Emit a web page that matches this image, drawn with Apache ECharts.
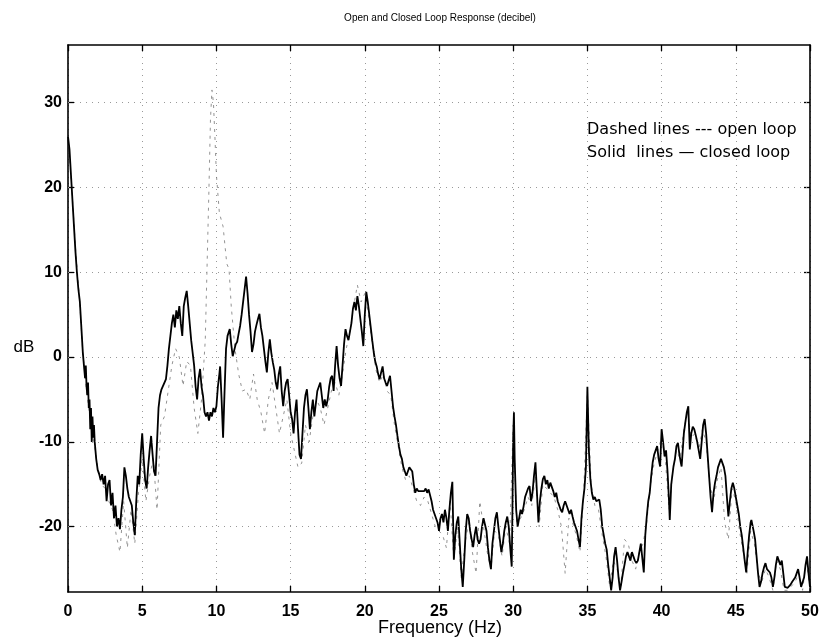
<!DOCTYPE html>
<html><head><meta charset="utf-8">
<script src="https://cdn.jsdelivr.net/npm/echarts@6/dist/echarts.min.js"></script>
<style>html,body{margin:0;padding:0;background:#fff}#c{width:823px;height:642px}</style>
</head><body><div id="c"></div>
<script>
// ---- data ----
const xTicks = [0, 5, 10, 15, 20, 25, 30, 35, 40, 45, 50];
const yTicks = [-20, -10, 0, 10, 20, 30];

const closedHz = [0,0.1,0.2,0.3,0.4,0.5,0.6,0.7,0.8,0.9,1.0,1.1,1.15,1.2,1.25,1.3,1.35,1.4,1.45,1.5,1.55,1.6,1.65,1.7,1.75,1.8,1.9,2.0,2.1,2.2,2.3,2.4,2.5,2.6,2.7,2.8,2.9,3.0,3.1,3.2,3.3,3.4,3.5,3.6,3.7,3.8,3.9,4.0,4.1,4.2,4.3,4.4,4.5,4.6,4.7,4.8,4.9,5.0,5.1,5.2,5.3,5.4,5.5,5.6,5.7,5.8,5.9,6.0,6.1,6.2,6.3,6.4,6.5,6.6,6.7,6.8,6.9,7.0,7.1,7.2,7.3,7.4,7.5,7.6,7.7,7.8,7.9,8.0,8.1,8.2,8.3,8.4,8.5,8.6,8.7,8.8,8.9,9.0,9.1,9.2,9.3,9.4,9.5,9.6,9.7,9.8,9.9,10.0,10.1,10.2,10.25,10.35,10.45,10.55,10.65,10.75,10.9,11.0,11.1,11.2,11.3,11.4,11.5,11.6,11.7,11.8,11.9,12.0,12.1,12.2,12.3,12.4,12.5,12.6,12.7,12.8,12.9,13.0,13.1,13.2,13.3,13.4,13.5,13.6,13.7,13.8,13.9,14.0,14.1,14.2,14.3,14.4,14.5,14.6,14.7,14.8,14.9,15.0,15.1,15.2,15.3,15.4,15.5,15.6,15.7,15.8,15.9,16.0,16.1,16.2,16.3,16.4,16.5,16.6,16.7,16.8,16.9,17.0,17.1,17.2,17.3,17.4,17.5,17.6,17.7,17.8,17.9,18.0,18.1,18.2,18.3,18.4,18.5,18.6,18.7,18.8,18.9,19.0,19.1,19.2,19.3,19.4,19.5,19.6,19.7,19.8,19.9,20.0,20.1,20.2,20.3,20.4,20.5,20.6,20.7,20.8,20.9,21.0,21.1,21.2,21.3,21.4,21.5,21.6,21.7,21.8,21.9,22.0,22.1,22.2,22.3,22.4,22.5,22.6,22.7,22.8,22.9,23.0,23.1,23.2,23.3,23.4,23.5,23.6,23.7,23.8,23.9,24.0,24.1,24.2,24.3,24.4,24.5,24.6,24.7,24.8,24.9,25.0,25.1,25.2,25.3,25.4,25.5,25.6,25.7,25.8,25.9,26.0,26.1,26.2,26.3,26.4,26.5,26.6,26.7,26.8,26.9,27.0,27.1,27.2,27.3,27.4,27.5,27.6,27.7,27.8,27.9,28.0,28.1,28.2,28.3,28.4,28.5,28.6,28.7,28.8,28.9,29.0,29.1,29.2,29.3,29.4,29.5,29.6,29.7,29.8,29.9,29.95,30.0,30.05,30.1,30.2,30.3,30.4,30.5,30.6,30.7,30.8,30.9,31.0,31.1,31.2,31.3,31.4,31.5,31.6,31.7,31.8,31.9,32.0,32.1,32.2,32.3,32.4,32.5,32.6,32.7,32.8,32.9,33.0,33.1,33.2,33.3,33.4,33.5,33.6,33.7,33.8,33.9,34.0,34.1,34.2,34.3,34.4,34.5,34.6,34.7,34.8,34.9,35.0,35.1,35.2,35.3,35.4,35.5,35.6,35.7,35.8,35.9,36.0,36.1,36.2,36.3,36.4,36.5,36.6,36.7,36.8,36.9,37.0,37.1,37.2,37.3,37.4,37.5,37.6,37.7,37.8,37.9,38.0,38.1,38.2,38.3,38.4,38.5,38.6,38.7,38.8,38.9,39.0,39.1,39.2,39.3,39.4,39.5,39.6,39.7,39.8,39.9,40.0,40.1,40.2,40.3,40.4,40.5,40.55,40.65,40.8,40.9,41.0,41.1,41.2,41.3,41.35,41.5,41.6,41.7,41.8,41.9,42.0,42.1,42.2,42.3,42.4,42.5,42.6,42.7,42.8,42.9,43.0,43.1,43.2,43.3,43.4,43.5,43.6,43.7,43.8,43.9,44.0,44.1,44.2,44.3,44.4,44.5,44.6,44.7,44.8,44.9,45.0,45.1,45.2,45.3,45.4,45.5,45.6,45.7,45.8,45.9,46.0,46.05,46.2,46.3,46.4,46.5,46.6,46.7,46.8,46.9,47.0,47.1,47.2,47.3,47.4,47.5,47.6,47.7,47.8,47.9,48.0,48.1,48.2,48.3,48.4,48.5,48.6,48.7,48.8,48.9,49.0,49.1,49.2,49.3,49.4,49.5,49.6,49.7,49.8,49.9,50.0];
const closedDb = [26.0,24.5,21.5,18.5,15.5,12.5,10.0,8.0,6.5,3.5,0.5,-1.5,-2.5,-1.0,-3.5,-4.5,-3.0,-6.0,-5.0,-8.5,-6.0,-10.0,-7.0,-9.5,-8.0,-10.0,-12.0,-13.3,-13.8,-14.5,-13.8,-15.0,-14.0,-17.0,-15.0,-14.5,-17.5,-16.0,-19.0,-17.5,-20.0,-19.0,-20.3,-18.0,-16.5,-13.0,-14.0,-15.5,-16.5,-17.0,-17.5,-19.5,-21.0,-17.0,-14.0,-15.0,-11.5,-9.0,-12.0,-14.5,-15.5,-13.0,-11.0,-9.3,-11.5,-13.5,-14.0,-10.0,-6.0,-4.5,-3.8,-4.0,-3.0,-2.6,-1.0,1.0,2.5,4.0,5.0,3.5,5.5,4.5,6.0,4.0,2.5,6.0,7.0,7.8,6.0,4.0,2.0,0.5,-1.0,-3.5,-5.0,-2.5,-1.4,-3.5,-4.6,-6.5,-7.0,-6.5,-7.5,-6.5,-7.0,-6.0,-6.5,-5.8,-3.5,-2.0,-1.1,-5.0,-9.5,-4.0,1.0,2.5,3.3,1.5,0.1,0.8,1.5,1.8,2.8,3.7,5.0,6.5,8.0,9.5,7.5,5.0,3.0,0.6,1.5,3.0,3.8,4.5,5.1,3.5,2.5,1.0,-0.5,-1.8,0.5,2.1,0.5,-0.6,-1.5,-3.0,-3.8,-2.0,-1.1,-4.0,-5.8,-4.0,-3.0,-2.6,-4.5,-6.5,-7.3,-9.0,-6.5,-5.0,-8.5,-11.5,-12.0,-9.0,-6.0,-4.5,-3.8,-6.0,-8.5,-6.5,-5.0,-7.0,-5.5,-4.0,-3.5,-3.0,-4.5,-6.0,-5.0,-5.8,-5.0,-3.5,-2.5,-2.2,-4.0,-1.0,1.3,-1.0,-2.5,-3.4,-1.0,1.5,3.3,2.5,2.0,1.8,4.0,5.7,6.5,5.5,7.2,6.0,4.5,3.0,1.3,5.0,7.7,6.5,5.0,3.5,2.0,0.6,-0.5,-1.1,-2.0,-2.6,-1.8,-1.1,-2.5,-3.0,-3.4,-2.8,-2.2,-4.0,-5.8,-7.0,-8.0,-9.3,-10.5,-11.5,-12.0,-13.0,-13.5,-14.0,-13.5,-13.0,-12.9,-13.5,-15.0,-16.0,-15.5,-15.8,-15.6,-15.8,-16.0,-15.8,-15.5,-16.0,-15.6,-15.4,-17.0,-18.0,-18.5,-19.0,-19.5,-20.5,-19.0,-18.5,-19.5,-18.0,-19.0,-20.5,-18.0,-16.0,-14.7,-23.9,-21.0,-19.5,-18.8,-22.0,-25.0,-27.1,-24.0,-20.5,-18.5,-19.0,-20.5,-21.5,-22.4,-21.0,-20.0,-21.5,-22.0,-21.5,-20.0,-19.0,-18.8,-20.5,-22.5,-24.0,-25.0,-22.0,-20.5,-19.0,-18.3,-20.0,-21.5,-23.0,-22.0,-20.5,-19.5,-18.8,-20.0,-22.5,-24.7,-18.0,-9.5,-6.5,-12.0,-18.0,-20.0,-19.0,-18.0,-18.5,-17.6,-16.5,-16.0,-15.5,-15.2,-17.0,-16.0,-14.0,-12.4,-16.0,-19.5,-17.0,-15.5,-14.4,-14.0,-15.0,-14.5,-15.5,-14.8,-15.0,-15.8,-16.5,-16.0,-17.0,-17.5,-18.0,-18.3,-17.5,-17.0,-17.2,-18.0,-18.5,-18.0,-18.8,-19.5,-20.0,-20.5,-21.5,-22.4,-19.0,-17.0,-15.5,-13.0,-3.5,-11.0,-14.4,-16.0,-16.8,-16.5,-17.0,-17.2,-16.8,-18.0,-20.0,-21.0,-22.0,-22.7,-24.5,-26.0,-27.5,-26.0,-23.5,-22.4,-24.0,-26.0,-27.5,-26.5,-25.4,-24.5,-23.5,-23.0,-23.2,-24.0,-23.0,-23.5,-24.0,-24.3,-24.0,-23.0,-22.0,-21.9,-25.4,-21.0,-18.8,-17.0,-16.0,-14.0,-12.4,-11.5,-11.0,-10.5,-12.0,-12.9,-8.5,-10.0,-11.7,-11.0,-13.5,-17.0,-19.2,-15.0,-12.9,-12.0,-10.5,-10.1,-11.5,-12.5,-12.9,-9.0,-7.7,-6.5,-5.8,-10.9,-9.0,-8.2,-8.5,-9.2,-10.0,-11.0,-12.0,-10.0,-8.0,-7.3,-9.0,-11.5,-14.0,-16.5,-18.3,-16.0,-14.8,-14.0,-13.0,-12.5,-12.0,-12.5,-13.0,-14.0,-16.5,-18.8,-17.0,-15.5,-14.8,-15.5,-16.5,-17.5,-18.5,-20.0,-21.0,-22.5,-24.0,-25.4,-23.0,-21.0,-19.5,-19.2,-20.5,-21.5,-23.5,-25.5,-27.1,-26.5,-25.5,-24.8,-24.3,-25.0,-24.8,-25.4,-26.0,-27.1,-26.0,-24.5,-23.5,-23.6,-24.5,-24.0,-25.5,-27.1,-27.3,-27.2,-27.1,-26.8,-26.5,-26.3,-26.0,-25.5,-25.0,-26.0,-27.1,-27.3,-26.0,-24.5,-23.5,-25.5,-27.1];

const openHz = [0,0.25,0.5,0.75,1.0,1.25,1.5,1.75,2.0,2.25,2.5,2.75,3.0,3.25,3.5,3.75,4.0,4.25,4.5,4.75,5.0,5.25,5.5,5.75,6.0,6.25,6.5,6.75,7.0,7.25,7.5,7.75,8.0,8.25,8.5,8.75,9.0,9.25,9.5,9.6,9.7,9.8,9.9,10.0,10.2,10.45,10.7,10.85,11.0,11.25,11.5,11.75,12.0,12.25,12.5,12.75,13.0,13.25,13.5,13.75,14.0,14.25,14.5,14.75,15.0,15.25,15.5,15.75,16.0,16.25,16.5,16.75,17.0,17.25,17.5,17.75,18.0,18.25,18.5,18.75,19.0,19.25,19.5,19.75,20.0,20.25,20.5,20.75,21.0,21.25,21.5,21.75,22.0,22.25,22.5,22.75,23.0,23.25,23.5,23.75,24.0,24.25,24.5,24.75,25.0,25.25,25.5,25.75,26.0,26.25,26.5,26.75,27.0,27.25,27.5,27.75,28.0,28.25,28.5,28.75,29.0,29.25,29.5,29.75,30.0,30.25,30.5,30.75,31.0,31.25,31.5,31.75,32.0,32.25,32.5,32.75,33.0,33.25,33.5,33.75,34.0,34.25,34.5,34.75,35.0,35.25,35.5,35.75,36.0,36.25,36.5,36.75,37.0,37.25,37.5,37.75,38.0,38.25,38.5,38.75,39.0,39.25,39.5,39.75,40.0,40.25,40.5,40.75,41.0,41.25,41.5,41.75,42.0,42.25,42.5,42.75,43.0,43.25,43.5,43.75,44.0,44.25,44.5,44.75,45.0,45.25,45.5,45.75,46.0,46.25,46.5,46.75,47.0,47.25,47.5,47.75,48.0,48.25,48.5,48.75,49.0,49.25,49.5,49.75,50.0];
const openDb = [26,20,13,7.5,0.5,-4,-7.5,-10,-13,-15,-15.5,-17,-18,-21,-23,-17,-22.5,-18,-22,-16,-12,-17,-14,-12,-18,-8,-7,-4,-1,1,0,-3.4,-0.5,-1,-6,-9,-5,2,20,28,31.5,30,26,21.5,17,15.4,11,10.4,6,1,-2,-4,-3.8,-5,-2,-5,-6.5,-9,-5,-3,-6,-9,-7,-5,-9,-11,-13,-12.5,-8,-10,-7,-5,-6,-8,-6,-4,-3,-4.5,-2,1,3,6,8.5,6.5,7.5,5,1.5,-1.5,-3,-2,-4,-4.5,-8,-10.5,-13,-14.5,-14,-15.5,-17,-17.5,-16.5,-17,-18.5,-20,-20.5,-21,-22.5,-17,-24,-20,-26,-22,-19.5,-23,-25.5,-17,-20,-23,-25,-20.5,-21,-23.5,-20,-22,-8,-20,-19,-18,-16.5,-17.5,-14,-20,-15,-15.5,-16,-16.5,-18,-20,-25.5,-19,-19.5,-21,-23,-16,-4,-15,-17.5,-18,-21,-23.5,-27,-24,-25,-27,-21.5,-22,-24,-25,-23,-22,-19.5,-15,-12.5,-11,-9.5,-12,-18,-13.5,-11,-12,-8.5,-6.5,-9.5,-9,-11,-8.5,-10,-15,-17,-14.5,-13,-19.5,-21.5,-15.5,-17,-20.5,-23,-25.5,-20.5,-22,-25.5,-26.5,-25,-26,-27.5,-24,-25,-27.5,-27.5,-27,-26.5,-25.5,-27.5,-24,-27.5];

const titleText = 'Open and Closed Loop Response (decibel)';
const xName = 'Frequency (Hz)';
const yName = 'dB';
const noteLines = ['Dashed lines --- open loop', 'Solid  lines \u2014 closed loop'];

// ---- chart ----
const closedData = closedHz.map((f, i) => [f, closedDb[i]]);
const openData = openHz.map((f, i) => [f, openDb[i]]);
const FONT = '"Liberation Sans", Arial, Helvetica, sans-serif';
const WIDE = '"DejaVu Sans", "Liberation Sans", sans-serif';

const chart = echarts.init(document.getElementById('c'), null, {renderer: 'canvas'});
const gridStyle = {color: '#999', type: [1, 5], width: 1};
chart.setOption({
  animation: false,
  backgroundColor: '#fff',
  grid: {left: 68, right: 13, top: 45, bottom: 50, containLabel: false},
  xAxis: [{
    type: 'value', min: 0, max: 50, interval: 5,
    axisLine: {show: true, onZero: false, lineStyle: {color: '#000', width: 1.6}},
    axisTick: {show: true, inside: true, length: 6, lineStyle: {color: '#000', width: 1.3}},
    axisLabel: {fontFamily: FONT, fontSize: 16, fontWeight: 'bold', color: '#000', margin: 12},
    splitLine: {show: true, lineStyle: gridStyle}
  }, {
    type: 'value', min: 0, max: 50, interval: 5, position: 'top',
    axisLine: {show: true, onZero: false, lineStyle: {color: '#000', width: 1.6}},
    axisTick: {show: true, inside: true, length: 6, lineStyle: {color: '#000', width: 1.3}},
    axisLabel: {show: false}, splitLine: {show: false}
  }],
  yAxis: [{
    type: 'value', min: -27.7, max: 36.8,
    axisLine: {show: true, onZero: false, lineStyle: {color: '#000', width: 1.6}},
    axisTick: {show: true, inside: true, length: 6, customValues: yTicks, lineStyle: {color: '#000', width: 1.3}},
    axisLabel: {customValues: yTicks, fontFamily: FONT, fontSize: 16, fontWeight: 'bold', color: '#000', margin: 6},
    splitLine: {show: false}
  }, {
    type: 'value', min: -27.7, max: 36.8, position: 'right',
    axisLine: {show: true, onZero: false, lineStyle: {color: '#000', width: 1.6}},
    axisTick: {show: true, inside: true, length: 6, customValues: yTicks, lineStyle: {color: '#000', width: 1.3}},
    axisLabel: {show: false}, splitLine: {show: false}
  }],
  graphic: [{
    type: 'text', x: 440, y: 18,
    style: {text: titleText, font: '10px ' + FONT, fill: '#000', align: 'center', verticalAlign: 'middle'}
  }, {
    type: 'text', x: 587, y: 130,
    style: {text: noteLines[0], font: '16px ' + WIDE, fill: '#000', align: 'left', verticalAlign: 'middle'}
  }, {
    type: 'text', x: 587, y: 153,
    style: {text: noteLines[1], font: '16px ' + WIDE, fill: '#000', align: 'left', verticalAlign: 'middle'}
  }, {
    type: 'text', x: 440, y: 628,
    style: {text: xName, font: '18px ' + FONT, fill: '#000', align: 'center', verticalAlign: 'middle'}
  }, {
    type: 'text', x: 24, y: 347,
    style: {text: yName, font: '17px ' + FONT, fill: '#000', align: 'center', verticalAlign: 'middle'}
  }],
  series: [{
    type: 'line', name: 'open', data: openData, showSymbol: false, symbol: 'none',
    lineStyle: {color: '#777', width: 0.8, type: [3, 5]}, z: 2,
    markLine: {silent: true, symbol: 'none', label: {show: false},
      lineStyle: gridStyle,
      data: yTicks.map(v => ({yAxis: v}))}
  }, {
    type: 'line', name: 'closed', data: closedData, showSymbol: false, symbol: 'none',
    lineStyle: {color: '#000', width: 1.8}, z: 3
  }]
});
</script>
</body></html>
